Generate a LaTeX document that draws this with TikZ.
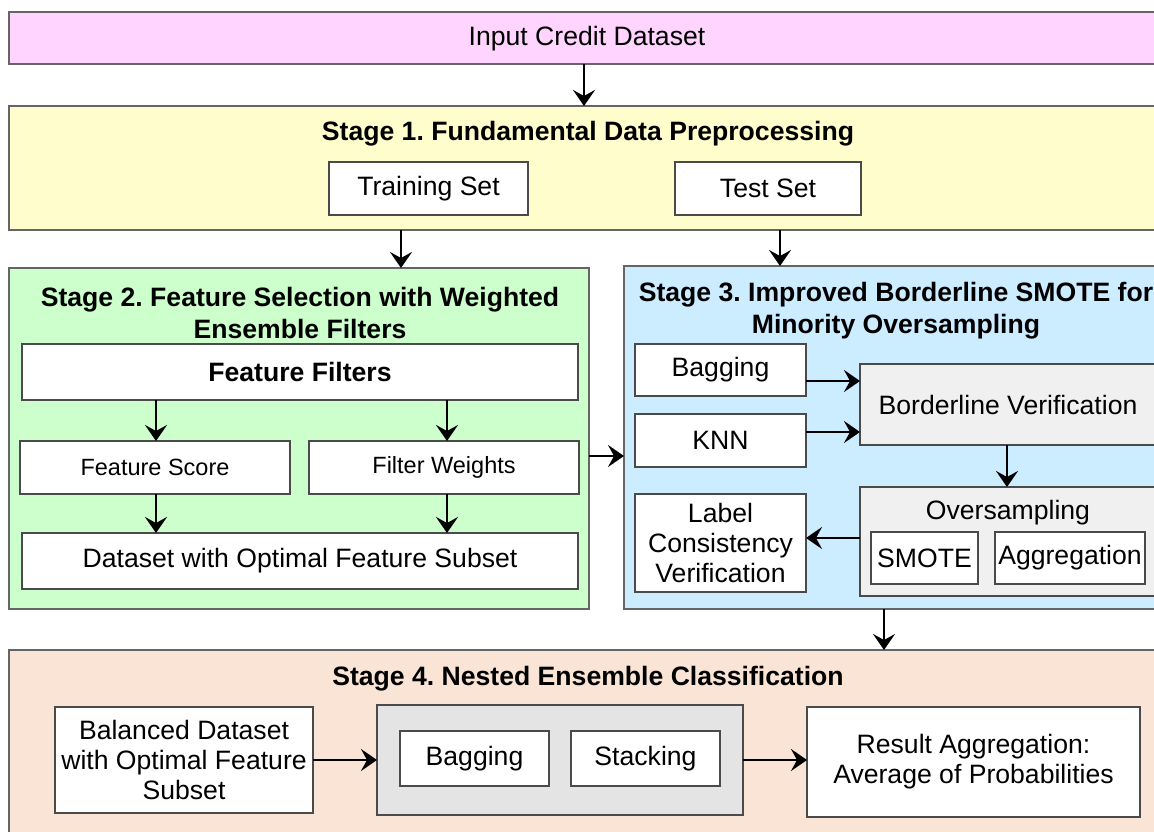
\documentclass[tikz,border=0pt]{standalone}
\usepackage{fontspec}
\setmainfont{Liberation Sans}
\usetikzlibrary{arrows.meta}
\frenchspacing
\definecolor{cpink}{HTML}{FFD5FF}
\definecolor{cyel}{HTML}{FFFDCC}
\definecolor{cgreen}{HTML}{CCFFCC}
\definecolor{cblue}{HTML}{CCECFF}
\definecolor{cpeach}{HTML}{FAE4D6}
\definecolor{cgrayA}{HTML}{F0F0F0}
\definecolor{cgrayB}{HTML}{E4E4E4}
\definecolor{cborder}{HTML}{4A4A4A}
\newcommand\bx[7]{\node[#1,minimum width={(#5-#3)*1pt},minimum height={(#6-#4)*1pt}] (#2) at ({(#3+#5)/2},{(#4+#6)/2}) {#7};}
\tikzset{
  base/.style={draw=cborder,line width=1.6pt,inner sep=0pt,outer sep=0pt,align=center,
    font=\fontsize{26.6}{30}\selectfont},
  stagebox/.style={base,line width=2pt,draw=cborder!85},
  wbox/.style={base,fill=white},
  gbox/.style={base,fill=cgrayA},
  title/.style={align=center,inner sep=0pt,font=\fontsize{26.6}{32}\selectfont\bfseries},
  lbl/.style={align=center,inner sep=0pt,font=\fontsize{26.6}{30}\selectfont},
  arr/.style={line width=2.4pt,-{Stealth[length=16pt,width=22pt,inset=6pt]}},
}
\begin{document}
\begin{tikzpicture}[x=1pt,y=-1pt]
\useasboundingbox (0,0) rectangle (1154,832);
\fill[white] (0,0) rectangle (1154,832);
\clip (0,0) rectangle (1154,832);
% Input
\bx{stagebox,fill=cpink}{inp}{9}{12}{1167}{64}{}
\node[lbl] (inptxt) at (587,39) {Input Credit Dataset};
% Stage 1
\bx{stagebox,fill=cyel}{s1}{9}{106}{1167}{230}{}
\node[title] (t1) at (588,134) {Stage 1. Fundamental Data Preprocessing};
\bx{wbox}{train}{329}{162}{528}{215}{Training Set}
\bx{wbox}{test}{675}{162}{861}{215}{Test Set}
% Stage 2
\bx{stagebox,fill=cgreen}{s2}{9}{268}{589}{609}{}
\node[title] (t2) at (300,313) {Stage 2. Feature Selection with Weighted\\Ensemble Filters};
\bx{wbox,font=\fontsize{26.6}{30}\selectfont\bfseries}{ff}{22}{344}{578}{400}{Feature Filters}
\bx{wbox,font=\fontsize{23.5}{28}\selectfont}{fs}{20}{441}{290}{494}{Feature Score}
\bx{wbox,font=\fontsize{23.5}{28}\selectfont}{fw}{309}{441}{579}{494}{Filter Weights}
\bx{wbox}{dos}{22}{533}{578}{589}{Dataset with Optimal Feature Subset}
% Stage 3
\bx{stagebox,fill=cblue}{s3}{624}{266}{1168}{609}{}
\node[title] (t3) at (896,311) {Stage 3. Improved Borderline SMOTE for\\Minority Oversampling};
\bx{wbox}{bag3}{635}{344}{806}{396}{Bagging}
\bx{wbox}{knn}{635}{414}{806}{467}{KNN}
\bx{wbox}{lcv}{635}{494}{806}{592}{Label\\Consistency\\Verification}
\bx{gbox}{bv}{860}{364}{1156}{445}{Borderline Verification}
\bx{gbox}{os}{860}{487}{1156}{596}{}
\node[lbl] (ostxt) at (1008,513) {Oversampling};
\bx{wbox}{smote}{871}{532}{978}{584}{SMOTE}
\bx{wbox}{aggr}{995}{532}{1145}{584}{Aggregation}
% Stage 4
\bx{stagebox,fill=cpeach}{s4}{9}{650}{1167}{845}{}
\node[title] (t4) at (588,679) {Stage 4. Nested Ensemble Classification};
\bx{wbox}{bal}{55}{707}{313}{813}{Balanced Dataset\\with Optimal Feature\\Subset}
\bx{base,fill=cgrayB}{ens}{377}{705}{743}{815}{}
\bx{wbox}{bag4}{400}{731}{549}{786}{Bagging}
\bx{wbox}{stack}{571}{731}{720}{786}{Stacking}
\bx{wbox}{res}{807}{707}{1140}{817}{Result Aggregation:\\Average of Probabilities}
% Arrows
\coordinate (xa) at (584,0);
\coordinate (xb) at (401,0);
\coordinate (xc) at (780,0);
\coordinate (xd) at (156,0);
\coordinate (xe) at (447,0);
\coordinate (xf) at (1007,0);
\coordinate (xg) at (884,0);
\coordinate (ya) at (0,456);
\coordinate (yb) at (0,381);
\coordinate (yc) at (0,432);
\coordinate (yd) at (0,538);
\coordinate (ye) at (0,760);
\draw[arr] (xa |- inp.south) -- (xa |- s1.north);
\draw[arr] (xb |- s1.south) -- (xb |- s2.north);
\draw[arr] (xc |- s1.south) -- (xc |- s3.north);
\draw[arr] (xd |- ff.south) -- (xd |- fs.north);
\draw[arr] (xe |- ff.south) -- (xe |- fw.north);
\draw[arr] (xd |- fs.south) -- (xd |- dos.north);
\draw[arr] (xe |- fw.south) -- (xe |- dos.north);
\draw[arr] (s2.east |- ya) -- (s3.west |- ya);
\draw[arr] (bag3.east |- yb) -- (bv.west |- yb);
\draw[arr] (knn.east |- yc) -- (bv.west |- yc);
\draw[arr] (xf |- bv.south) -- (xf |- os.north);
\draw[arr] (os.west |- yd) -- (lcv.east |- yd);
\draw[arr] (xg |- s3.south) -- (xg |- s4.north);
\draw[arr] (bal.east |- ye) -- (ens.west |- ye);
\draw[arr] (ens.east |- ye) -- (res.west |- ye);
\end{tikzpicture}
\end{document}
